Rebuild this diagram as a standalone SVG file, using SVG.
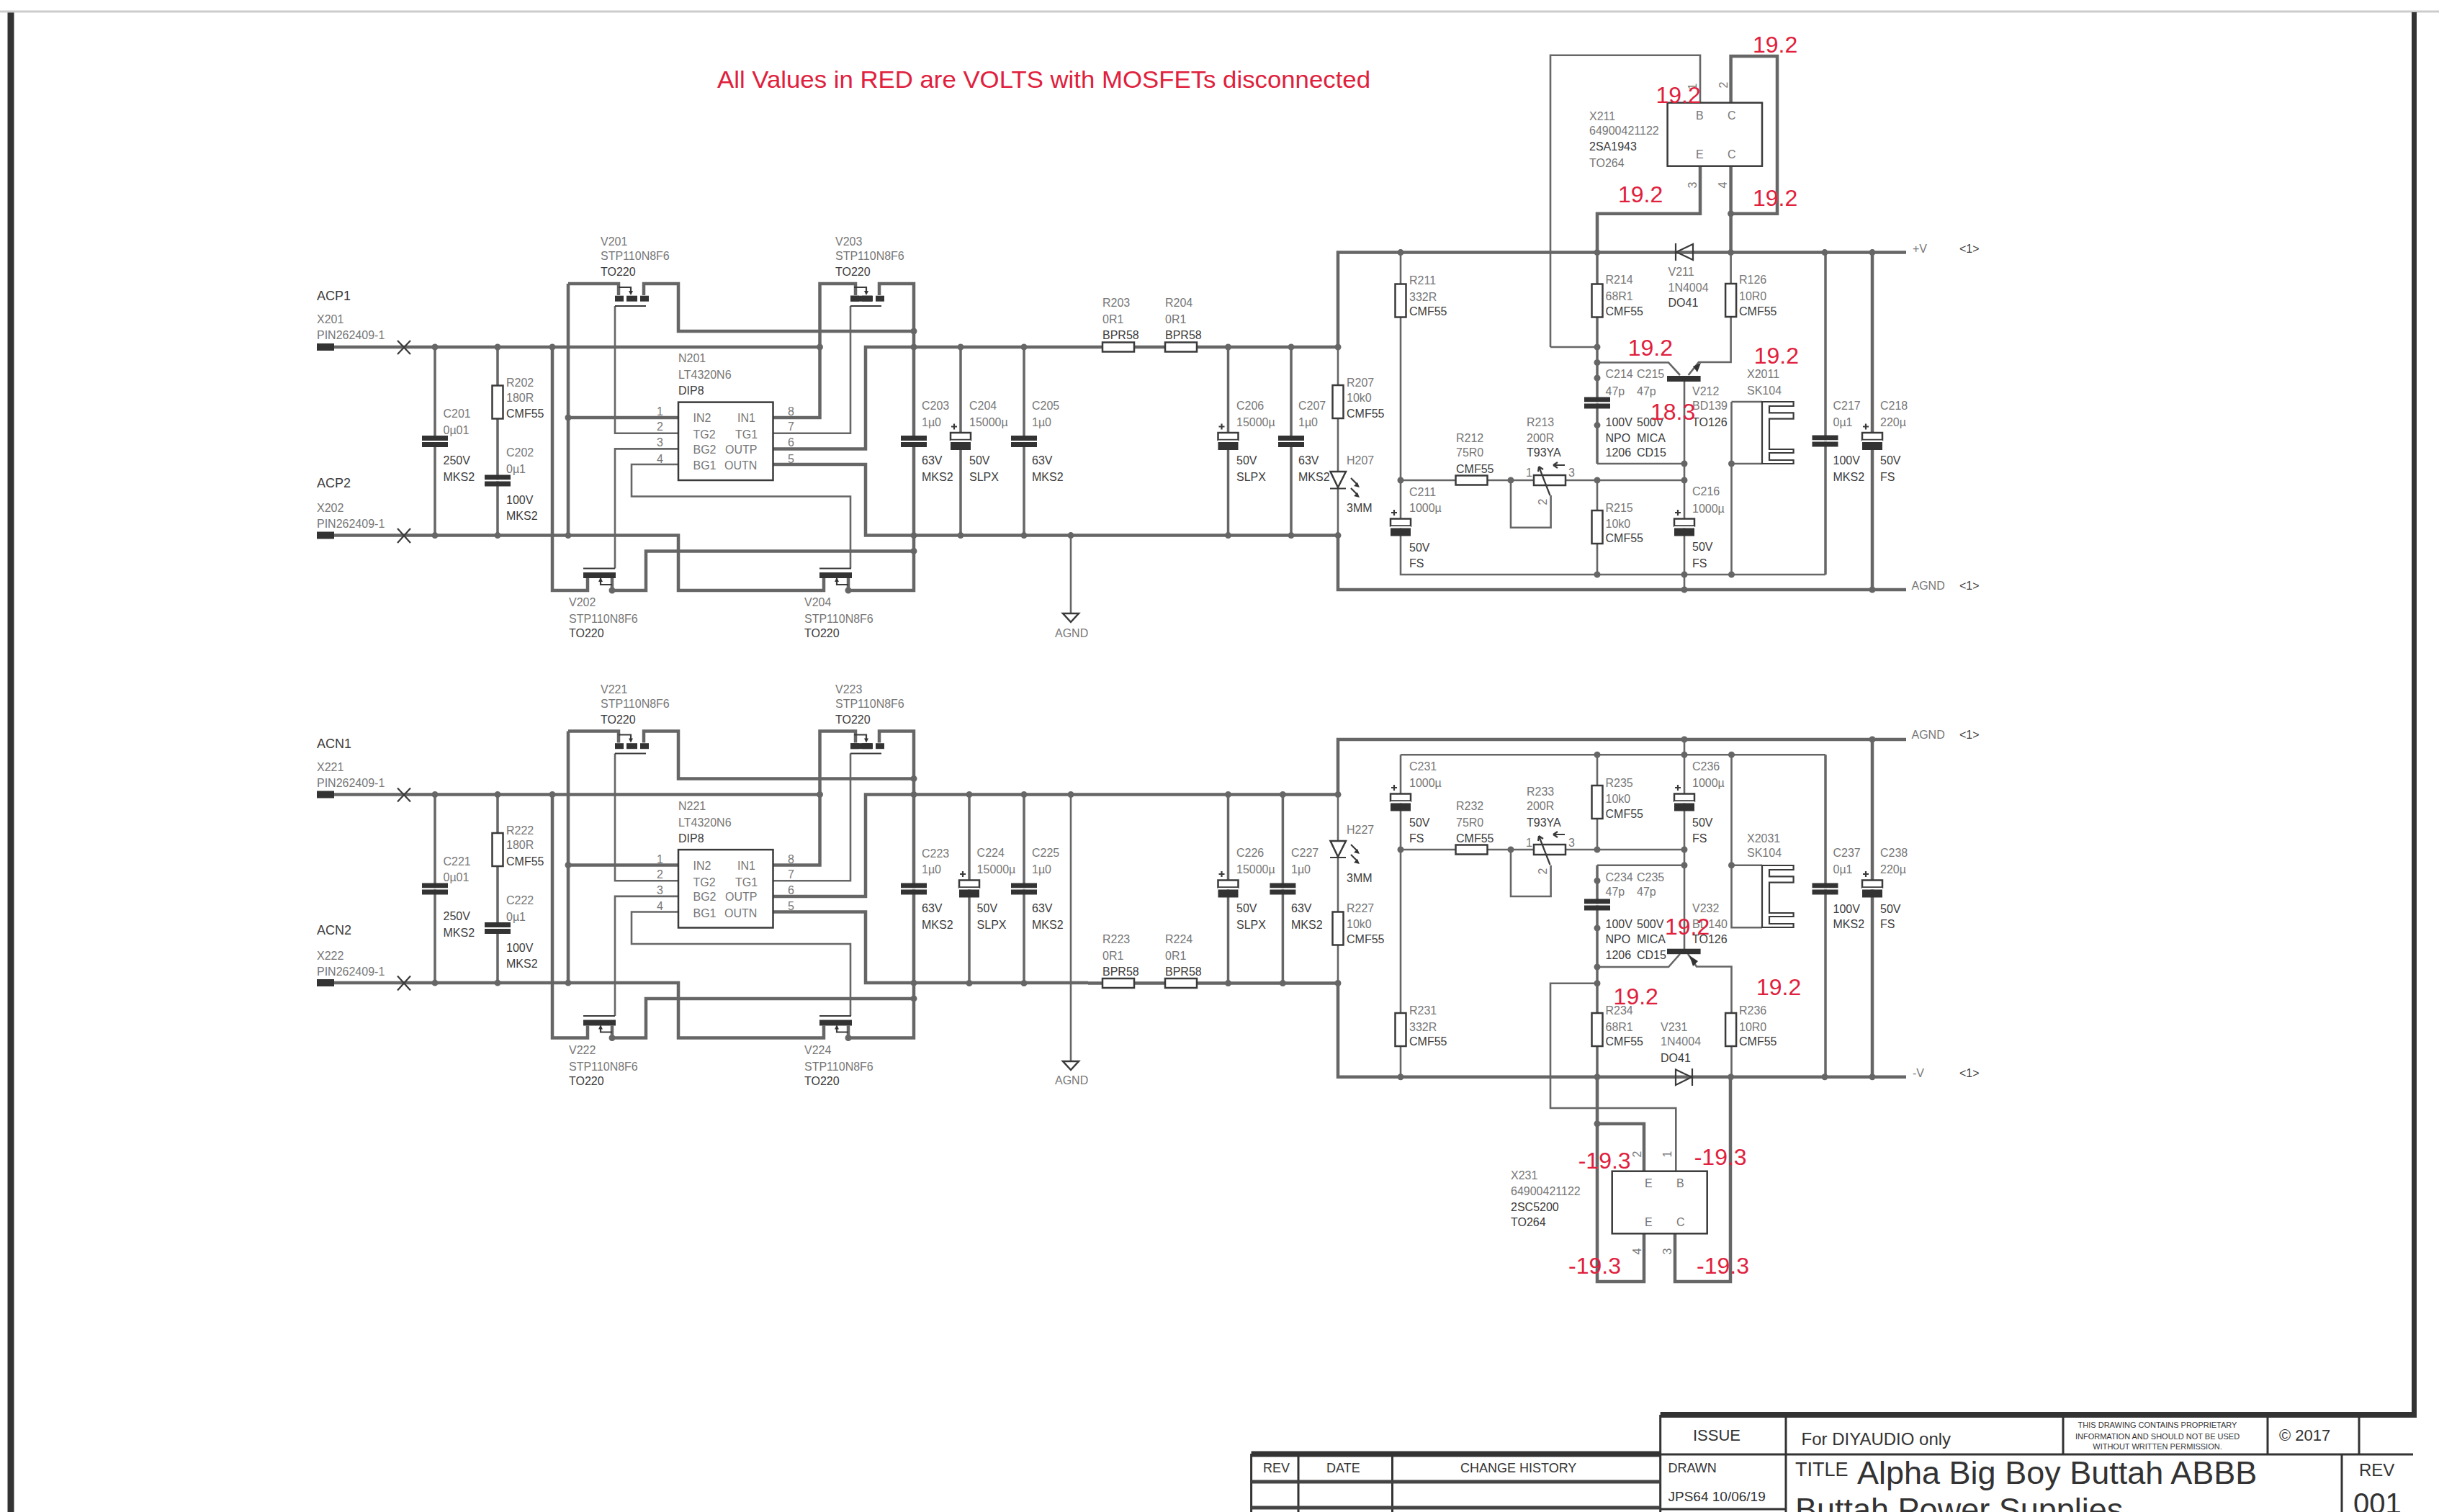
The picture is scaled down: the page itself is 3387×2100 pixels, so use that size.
<svg xmlns="http://www.w3.org/2000/svg" xmlns:xlink="http://www.w3.org/1999/xlink" width="3387" height="2100" viewBox="0 0 3387 2100">
<style>
text{font-family:"Liberation Sans",Arial,sans-serif;font-size:16px}
.g{fill:#777}
.k{fill:#3c3c3c}
.b{fill:#3c3c3c;font-size:18px}
.r{fill:#e0203c;font-size:32px}
.c{text-anchor:middle}
.w,.m,.n,.f,.d,.l{fill:none;stroke:#666;stroke-linejoin:miter}
.w{stroke-width:4.5}
.m{stroke-width:3.5}
.n{stroke-width:2.6}
.d{stroke-width:9;stroke-linecap:round}
.s{fill:#333}
.o{fill:#fff;stroke:#3a3a3a;stroke-width:2.5}
.a{fill:none;stroke:#3a3a3a;stroke-width:2.2}
.tb{fill:none;stroke:#333;stroke-width:3}
.tk{fill:none;stroke:#333;stroke-width:8}
.tt{fill:#333;font-size:18px}
</style>
<defs>
<g id="cap"><rect class="s" x="-18" y="-7.5" width="36" height="7"/><rect fill="#fff" x="-18" y="-.5" width="36" height="2"/><rect class="s" x="-18" y="1.5" width="36" height="7"/></g>
<g id="ecap"><rect class="o" x="-14" y="-11.5" width="28" height="10"/><rect fill="#fff" x="-14" y="-1" width="28" height="2.5"/><rect class="s" x="-14" y="1.5" width="28" height="11"/><path class="a" d="M-13-20h8M-9-24v8"/></g>
<rect id="rv" class="o" x="-7.5" y="-23" width="15" height="46"/>
<rect id="rh" class="o" x="-22" y="-6.5" width="44" height="13"/>
<path id="gnd" class="o" d="M-11 0H11L0 12Z"/>
<g id="qt"><rect class="s" x="854" y="410.7" width="12" height="8"/><rect class="s" x="870" y="410.7" width="15" height="8"/><rect class="s" x="889" y="410.7" width="12" height="8"/><path class="a" d="M854 425H897M859 399H876V408"/><path class="s" d="M873 404H879L876 410Z"/></g>
<g id="qb"><rect class="s" x="810" y="795" width="45" height="8"/><path class="a" d="M810 789.5H854M834 803V812H850"/><path class="s" d="M831 808H837L834 802Z"/></g>
<g id="bw">
<path class="w" d="M464 482H1138.5V394H1188V410M1221 410V394H1269V820H1178V803M789 394H859V410M894 410V394H942V460H1269M789 394V743.6M767 482V820H816V803M850 803V820H897V765.4H1269M464 743.6H942V820H1144V803M1073.5 580H1138.5V482M789 580H942M1073.5 623.4H1202V482H1511M1073.5 645H1202V743.6H1511"/>
<path class="m" d="M604 482V743.6M691 482V743.6"/>
<path class="n" d="M854 425V601.7H942M942 623.4H854V789.5M1181 425V601.7H1073.5M942 645H877V689.5H1181V789.5"/>
<path class="a" d="M552 473L570 492M570 473L552 492M552 734L570 754M570 734L552 754"/>
<path class="d" d="M604 482h0M691 482h0M767 482h0M1138.5 482h0M1269 482h0M604 743.6h0M691 743.6h0M789 743.6h0M1269 743.6h0M789 580h0M1269 460h0M1269 765.4h0M850 820h0M1178 820h0"/>
</g>
<g id="pot"><rect class="o" x="-22" y="-7" width="44" height="14"/><path class="a" d="M.5 21L-15-19M-15-19l-1 7M-15-19l6 4M21-21H5M5-21l6-4M5-21l6 4"/></g>
<path id="sink" class="a" d="M0 0H43.6V6H10V15.3H43.6V23.7H10V66H43.6V71H10V81H43.6V86H0Z"/>
</defs>

<rect width="3387" height="2100" fill="#fff"/>

<g id="frame">
<path d="M15 17V2100" fill="none" stroke="#333" stroke-width="9"/>
<path d="M0 16H3387" fill="none" stroke="#ccc" stroke-width="3"/>
<path d="M3352.500 17V1965" fill="none" stroke="#333" stroke-width="7"/>
</g>

<g id="connectors">
<use href="#bw"/>
<use href="#bw" transform="translate(0,621.5)"/>
<path class="w" d="M1511 482H1858M1511 743.6H1858M1858 482V350.6H2647M1858 743.6V819H2647M2218 350.6V296.7H2361V230.7M2403.6 350.6V230.7M2403.6 142.7V78H2468V296.7H2403.6M2600 350.6V819"/>
<path class="m" d="M1334 482V743.6M1422 482V743.6M1705.5 482V743.6M1793 482V743.6M2218 350.6V644M2535 350.6V798"/>
<path class="n" d="M1487 743.6V852M1858 482V743.6M1945 350.6V798H2535M1945 667H2339M2218 644H2339M2218 667V798M2153 482H2218M2153 482V76.7H2361V142.7M2339 530V819M2403.6 350.6V503H2359L2344.6 521M2218 503.5H2317L2333 521M2404.5 558V798M2404.5 558H2447M2404.5 644H2447M2098 667V732.7H2153.6V688"/>
<path class="d" d="M1334 482h0M1422 482h0M1705.5 482h0M1793 482h0M1858 482h0M1334 743.6h0M1422 743.6h0M1487 743.6h0M1705.5 743.6h0M1793 743.6h0M1858 743.6h0M1945 350.6h0M2218 350.6h0M2403.6 350.6h0M2534 350.6h0M2600 350.6h0M2403.6 296.7h0M2218 482h0M2218 503.5h0M2218 525h0M2218 590.6h0M2339 644h0M2339 667h0M1945 667h0M2098 667h0M2218 667h0M2404.5 644h0M2218 798h0M2339 798h0M2404.5 798h0M2339 819h0M2600 819h0"/>
<path class="w" d="M1511 1103.5H1858M1511 1365.5H1858M1858 1103.5V1027H2647M1858 1365.5V1495.7H2647M2600 1027V1495.7M2218 1495.7V1780H2283V1713.3M2403 1495.7V1780H2326V1713.3M2218 1560.7H2283V1626.7"/>
<path class="m" d="M1346 1103.5V1365.5M1422 1103.5V1365.5M1705.5 1103.5V1365.5M1781.4 1103.5V1365.5M2218 1201.7V1495.7M2535 1048.3V1495.7"/>
<path class="n" d="M1487 1103.5V1474M1858 1103.5V1365.5M1945 1048.3H2535M1945 1048.3V1495.7M1945 1180H2339M2218 1048.3V1180M2339 1027V1318M2218 1201.7H2339M2404.5 1048.3V1288.3H2447M2404.5 1201.7H2447M2218 1343H2317L2333 1325M2344 1325L2356 1342.5H2404.5V1495.7M2218 1365.7H2153V1539H2327.3V1626.7M2098 1180V1245H2153.6V1201.7"/>
<path class="d" d="M1346 1103.5h0M1422 1103.5h0M1487 1103.5h0M1705.5 1103.5h0M1781.4 1103.5h0M1858 1103.5h0M1422 1365.5h0M1705.5 1365.5h0M1781.4 1365.5h0M1858 1365.5h0M1346 1365.5h0M2339 1027h0M2600 1027h0M2218 1048.3h0M2339 1048.3h0M2404.5 1048.3h0M1945 1180h0M2098 1180h0M2218 1180h0M2339 1180h0M2339 1201.7h0M2404.5 1201.7h0M2218 1223.3h0M2218 1289h0M2218 1343h0M2218 1365.7h0M1945 1495.7h0M2218 1495.7h0M2403.6 1495.7h0M2534 1495.7h0M2600 1495.7h0M2218 1560.7h0"/>
</g>

<text id="note" class="r" style="font-size:34px" x="996" y="122" textLength="907" lengthAdjust="spacingAndGlyphs">All Values in RED are VOLTS with MOSFETs disconnected</text>

<g id="bridge1">
<g id="X201"><rect class="s" x="440" y="477" width="24" height="10"/><text class="b" x="440" y="417">ACP1</text><text class="g" x="440" y="449">X201</text><text class="g" x="440" y="471">PIN262409-1</text></g>
<g id="X202"><rect class="s" x="440" y="738.5" width="24" height="10"/><text class="b" x="440" y="676.5">ACP2</text><text class="g" x="440" y="711">X202</text><text class="g" x="440" y="733">PIN262409-1</text></g>
<g id="C201"><use href="#cap" x="604" y="612.5"/><text class="g" x="615.5" y="580">C201</text><text class="g" x="615.5" y="602.5">0µ01</text><text class="k" x="615.5" y="645">250V</text><text class="k" x="615.5" y="668">MKS2</text></g>
<g id="R202"><use href="#rv" x="691" y="558.5"/><text class="g" x="703" y="537">R202</text><text class="g" x="703" y="557.5">180R</text><text class="k" x="703" y="580">CMF55</text></g>
<g id="C202"><use href="#cap" x="691" y="667"/><text class="g" x="703" y="634">C202</text><text class="g" x="703" y="657">0µ1</text><text class="k" x="703" y="700">100V</text><text class="k" x="703" y="722">MKS2</text></g>
<g id="V201"><use href="#qt"/><text class="g" x="834" y="341">V201</text><text class="g" x="834" y="361">STP110N8F6</text><text class="k" x="834" y="383">TO220</text></g>
<g id="V203"><use href="#qt" x="327"/><rect class="s" x="1181" y="410.7" width="30" height="8"/><text class="g" x="1160" y="341">V203</text><text class="g" x="1160" y="361">STP110N8F6</text><text class="k" x="1160" y="383">TO220</text></g>
<g id="V202"><use href="#qb"/><text class="g" x="790" y="842">V202</text><text class="g" x="790" y="865">STP110N8F6</text><text class="k" x="790" y="885">TO220</text></g>
<g id="V204"><use href="#qb" x="328"/><text class="g" x="1117" y="842">V204</text><text class="g" x="1117" y="865">STP110N8F6</text><text class="k" x="1117" y="885">TO220</text></g>
<g id="N201"><rect class="o" x="942" y="558.6" width="131.5" height="108.4"/><text class="g" x="942" y="503">N201</text><text class="g" x="942" y="526">LT4320N6</text><text class="k" x="942" y="548">DIP8</text><text class="g" x="962.5" y="586">IN2</text><text class="g" x="962.5" y="609">TG2</text><text class="g" x="962.5" y="629.5">BG2</text><text class="g" x="962.5" y="652">BG1</text><text class="g" x="1024" y="586">IN1</text><text class="g" x="1021" y="609">TG1</text><text class="g" x="1007" y="629.5">OUTP</text><text class="g" x="1006" y="652">OUTN</text><text class="g" x="912" y="577">1</text><text class="g" x="912" y="598">2</text><text class="g" x="912" y="620">3</text><text class="g" x="912" y="642.5">4</text><text class="g" x="1094" y="577">8</text><text class="g" x="1094" y="598">7</text><text class="g" x="1094" y="620">6</text><text class="g" x="1094" y="642.5">5</text></g>
<g id="C203"><use href="#cap" x="1269" y="612.5"/><text class="g" x="1280" y="569">C203</text><text class="g" x="1280" y="591.5">1µ0</text><text class="k" x="1280" y="645">63V</text><text class="k" x="1280" y="668">MKS2</text></g>
</g>
<g id="C204"><use href="#ecap" x="1334" y="612.5"/><text class="g" x="1346" y="569">C204</text><text class="g" x="1346" y="591.5">15000µ</text><text class="k" x="1346" y="645">50V</text><text class="k" x="1346" y="668">SLPX</text></g>
<g id="C205"><use href="#cap" x="1422" y="612.5"/><text class="g" x="1433" y="569">C205</text><text class="g" x="1433" y="591.5">1µ0</text><text class="k" x="1433" y="645">63V</text><text class="k" x="1433" y="668">MKS2</text></g>
<g id="R203"><use href="#rh" x="1553" y="482"/><text class="g" x="1531" y="426">R203</text><text class="g" x="1531" y="449">0R1</text><text class="k" x="1531" y="471">BPR58</text></g>
<g id="R204"><use href="#rh" x="1640" y="482"/><text class="g" x="1618" y="426">R204</text><text class="g" x="1618" y="449">0R1</text><text class="k" x="1618" y="471">BPR58</text></g>
<g id="C206"><use href="#ecap" x="1705.5" y="612.5"/><text class="g" x="1717" y="569">C206</text><text class="g" x="1717" y="591.5">15000µ</text><text class="k" x="1717" y="645">50V</text><text class="k" x="1717" y="668">SLPX</text></g>
<g id="C207"><use href="#cap" x="1793" y="612.5"/><text class="g" x="1803" y="569">C207</text><text class="g" x="1803" y="591.5">1µ0</text><text class="k" x="1803" y="645">63V</text><text class="k" x="1803" y="668">MKS2</text></g>
<g id="AGND1"><use href="#gnd" x="1487" y="852"/><text class="g" x="1465" y="885">AGND</text></g>
<g id="R207"><use href="#rv" x="1858" y="558"/><text class="g" x="1870" y="537">R207</text><text class="g" x="1870" y="557.5">10k0</text><text class="k" x="1870" y="580">CMF55</text></g>
<g id="H207"><path class="o" d="M1847.500 655H1869L1858 677Z"/><path class="a" d="M1847 678.500H1869M1876 664l9 9M1876 678l9 9"/><path class="s" d="M1888 677l-8-2 5-5ZM1888 691l-8-2 5-5Z"/><text class="g" x="1870" y="645">H207</text><text class="k" x="1870" y="711">3MM</text></g>
<g id="R211"><use href="#rv" x="1945" y="417.500"/><text class="g" x="1957" y="395">R211</text><text class="g" x="1957" y="417.500">332R</text><text class="k" x="1957" y="438">CMF55</text></g>
<g id="R212"><use href="#rh" x="2043.500" y="667"/><text class="g" x="2022" y="614">R212</text><text class="g" x="2022" y="634">75R0</text><text class="k" x="2022" y="657">CMF55</text></g>
<g id="R213"><use href="#pot" x="2152" y="667"/><text class="g" x="2120" y="592">R213</text><text class="g" x="2120" y="614">200R</text><text class="k" x="2120" y="634">T93YA</text><text class="g" x="2119" y="662">1</text><text class="g" x="2178" y="662">3</text><text class="g c" transform="rotate(-90 2148 697)" x="2148" y="697">2</text></g>
<g id="R214"><use href="#rv" x="2218" y="417.500"/><text class="g" x="2229.500" y="394">R214</text><text class="g" x="2229.500" y="417">68R1</text><text class="k" x="2229.500" y="438">CMF55</text></g>
<g id="R215"><use href="#rv" x="2218" y="732"/><text class="g" x="2229.500" y="711">R215</text><text class="g" x="2229.500" y="733">10k0</text><text class="k" x="2229.500" y="753">CMF55</text></g>
<g id="R126"><use href="#rv" x="2403.600" y="417"/><text class="g" x="2415" y="394">R126</text><text class="g" x="2415" y="417">10R0</text><text class="k" x="2415" y="438">CMF55</text></g>
<g id="V211"><path class="a" d="M2327 338V362M2351 339V361L2328 350Z"/><text class="g" x="2316.500" y="383">V211</text><text class="g" x="2316.500" y="405">1N4004</text><text class="k" x="2316.500" y="426">DO41</text></g>
<g id="C211"><use href="#ecap" x="1945" y="732"/><text class="g" x="1957" y="689">C211</text><text class="g" x="1957" y="711">1000µ</text><text class="k" x="1957" y="765.500">50V</text><text class="k" x="1957" y="788">FS</text></g>
<g id="C214"><use href="#cap" x="2218" y="559"/><text class="g" x="2229.500" y="525">C214</text><text class="g" x="2229.500" y="549">47p</text><text class="k" x="2229.500" y="592">100V</text><text class="k" x="2229.500" y="614">NPO</text><text class="k" x="2229.500" y="634">1206</text></g>
<g id="C215"><text class="g" x="2273" y="525">C215</text><text class="g" x="2273" y="549">47p</text><text class="k" x="2273" y="592">500V</text><text class="k" x="2273" y="614">MICA</text><text class="k" x="2273" y="634">CD15</text></g>
<g id="V212"><rect class="s" x="2315" y="522" width="46.600" height="8"/><path class="s" d="M2362 504L2351 509L2357 517Z"/><text class="g" x="2350" y="549">V212</text><text class="g" x="2350" y="569">BD139</text><text class="k" x="2350" y="592">TO126</text></g>
<g id="C216"><use href="#ecap" x="2339" y="732"/><text class="g" x="2350" y="688">C216</text><text class="g" x="2350" y="712">1000µ</text><text class="k" x="2350" y="765">50V</text><text class="k" x="2350" y="788">FS</text></g>
<g id="X2011"><use href="#sink" x="2447" y="558"/><text class="g" x="2426" y="525">X2011</text><text class="g" x="2426" y="548">SK104</text></g>
<g id="C217"><use href="#cap" x="2534.500" y="612"/><text class="g" x="2545.500" y="569">C217</text><text class="g" x="2545.500" y="592">0µ1</text><text class="k" x="2545.500" y="645">100V</text><text class="k" x="2545.500" y="668">MKS2</text></g>
<g id="C218"><use href="#ecap" x="2600" y="612.500"/><text class="g" x="2611" y="569">C218</text><text class="g" x="2611" y="592">220µ</text><text class="k" x="2611" y="645">50V</text><text class="k" x="2611" y="668">FS</text></g>
<g id="X211"><rect class="o" x="2315.600" y="142.700" width="131.400" height="88"/><text class="g" x="2207" y="167">X211</text><text class="g" x="2207" y="187">64900421122</text><text class="k" x="2207" y="209">2SA1943</text><text class="g" x="2207" y="232">TO264</text><text class="g" x="2355" y="166">B</text><text class="g" x="2399" y="166">C</text><text class="g" x="2355" y="220">E</text><text class="g" x="2399" y="220">C</text><text class="g c" transform="rotate(-90 2356 120)" x="2356" y="120">1</text><text class="g c" transform="rotate(-90 2399 118)" x="2399" y="118">2</text><text class="g c" transform="rotate(-90 2356 257)" x="2356" y="257">3</text><text class="g c" transform="rotate(-90 2398 257)" x="2398" y="257">4</text></g>
<g id="portV"><text class="g" x="2656" y="351">+V</text><text class="k" x="2721" y="351">&lt;1&gt;</text></g>
<g id="portAGND1"><text class="g" x="2654.500" y="819">AGND</text><text class="k" x="2721" y="819">&lt;1&gt;</text></g>
<g id="volts1">
<text class="r" x="2434" y="73">19.2</text><text class="r" x="2299.500" y="143">19.2</text><text class="r" x="2247" y="281">19.2</text><text class="r" x="2434" y="285.700">19.2</text><text class="r" x="2260.700" y="494">19.2</text><text class="r" x="2435.700" y="505">19.2</text><text class="r" x="2292" y="583">18.3</text>
</g>

<g id="bridge2" transform="translate(0,621.5)">
<g id="X221"><rect class="s" x="440" y="477" width="24" height="10"/><text class="b" x="440" y="417">ACN1</text><text class="g" x="440" y="449">X221</text><text class="g" x="440" y="471">PIN262409-1</text></g>
<g id="X222"><rect class="s" x="440" y="738.500" width="24" height="10"/><text class="b" x="440" y="676.500">ACN2</text><text class="g" x="440" y="711">X222</text><text class="g" x="440" y="733">PIN262409-1</text></g>
<g id="C221"><use href="#cap" x="604" y="612.500"/><text class="g" x="615.500" y="580">C221</text><text class="g" x="615.500" y="602.500">0µ01</text><text class="k" x="615.500" y="656">250V</text><text class="k" x="615.500" y="679">MKS2</text></g>
<g id="R222"><use href="#rv" x="691" y="558.500"/><text class="g" x="703" y="537">R222</text><text class="g" x="703" y="557.500">180R</text><text class="k" x="703" y="580">CMF55</text></g>
<g id="C222"><use href="#cap" x="691" y="667"/><text class="g" x="703" y="634">C222</text><text class="g" x="703" y="657">0µ1</text><text class="k" x="703" y="700">100V</text><text class="k" x="703" y="722">MKS2</text></g>
<g id="V221"><use href="#qt"/><text class="g" x="834" y="341">V221</text><text class="g" x="834" y="361">STP110N8F6</text><text class="k" x="834" y="383">TO220</text></g>
<g id="V223"><use href="#qt" x="327"/><rect class="s" x="1181" y="410.700" width="30" height="8"/><text class="g" x="1160" y="341">V223</text><text class="g" x="1160" y="361">STP110N8F6</text><text class="k" x="1160" y="383">TO220</text></g>
<g id="V222"><use href="#qb"/><text class="g" x="790" y="842">V222</text><text class="g" x="790" y="865">STP110N8F6</text><text class="k" x="790" y="885">TO220</text></g>
<g id="V224"><use href="#qb" x="328"/><text class="g" x="1117" y="842">V224</text><text class="g" x="1117" y="865">STP110N8F6</text><text class="k" x="1117" y="885">TO220</text></g>
<g id="N221"><rect class="o" x="942" y="558.600" width="131.500" height="108.400"/><text class="g" x="942" y="503">N221</text><text class="g" x="942" y="526">LT4320N6</text><text class="k" x="942" y="548">DIP8</text><text class="g" x="962.500" y="586">IN2</text><text class="g" x="962.500" y="609">TG2</text><text class="g" x="962.500" y="629.500">BG2</text><text class="g" x="962.500" y="652">BG1</text><text class="g" x="1024" y="586">IN1</text><text class="g" x="1021" y="609">TG1</text><text class="g" x="1007" y="629.500">OUTP</text><text class="g" x="1006" y="652">OUTN</text><text class="g" x="912" y="577">1</text><text class="g" x="912" y="598">2</text><text class="g" x="912" y="620">3</text><text class="g" x="912" y="642.500">4</text><text class="g" x="1094" y="577">8</text><text class="g" x="1094" y="598">7</text><text class="g" x="1094" y="620">6</text><text class="g" x="1094" y="642.500">5</text></g>
<g id="C223"><use href="#cap" x="1269" y="612.500"/><text class="g" x="1280" y="569">C223</text><text class="g" x="1280" y="591.500">1µ0</text><text class="k" x="1280" y="645">63V</text><text class="k" x="1280" y="668">MKS2</text></g>
</g>
<g id="C224"><use href="#ecap" x="1346" y="1234"/><text class="g" x="1356.600" y="1190">C224</text><text class="g" x="1356.600" y="1213">15000µ</text><text class="k" x="1356.600" y="1267">50V</text><text class="k" x="1356.600" y="1290">SLPX</text></g>
<g id="C225"><use href="#cap" x="1422" y="1234"/><text class="g" x="1433" y="1190">C225</text><text class="g" x="1433" y="1213">1µ0</text><text class="k" x="1433" y="1267">63V</text><text class="k" x="1433" y="1290">MKS2</text></g>
<g id="R223"><use href="#rh" x="1553" y="1365.500"/><text class="g" x="1531" y="1310">R223</text><text class="g" x="1531" y="1333">0R1</text><text class="k" x="1531" y="1355">BPR58</text></g>
<g id="R224"><use href="#rh" x="1640" y="1365.500"/><text class="g" x="1618" y="1310">R224</text><text class="g" x="1618" y="1333">0R1</text><text class="k" x="1618" y="1355">BPR58</text></g>
<g id="C226"><use href="#ecap" x="1705.500" y="1234"/><text class="g" x="1717" y="1190">C226</text><text class="g" x="1717" y="1213">15000µ</text><text class="k" x="1717" y="1267">50V</text><text class="k" x="1717" y="1290">SLPX</text></g>
<g id="C227"><use href="#cap" x="1781.400" y="1234"/><text class="g" x="1793" y="1190">C227</text><text class="g" x="1793" y="1213">1µ0</text><text class="k" x="1793" y="1267">63V</text><text class="k" x="1793" y="1290">MKS2</text></g>
<g id="AGND2"><use href="#gnd" x="1487" y="1474"/><text class="g" x="1465" y="1506">AGND</text></g>
<g id="H227"><path class="o" d="M1847.500 1168H1869L1858 1190Z"/><path class="a" d="M1847 1191H1869M1876 1173l9 9M1876 1187l9 9"/><path class="s" d="M1888 1186l-8-2 5-5ZM1888 1200l-8-2 5-5Z"/><text class="g" x="1870" y="1158">H227</text><text class="k" x="1870" y="1225">3MM</text></g>
<g id="R227"><use href="#rv" x="1858" y="1289.500"/><text class="g" x="1870" y="1267">R227</text><text class="g" x="1870" y="1289">10k0</text><text class="k" x="1870" y="1310">CMF55</text></g>
<g id="C231"><use href="#ecap" x="1945" y="1114"/><text class="g" x="1957" y="1070">C231</text><text class="g" x="1957" y="1093">1000µ</text><text class="k" x="1957" y="1147.500">50V</text><text class="k" x="1957" y="1170">FS</text></g>
<g id="R231"><use href="#rv" x="1945" y="1430"/><text class="g" x="1957" y="1409">R231</text><text class="g" x="1957" y="1432">332R</text><text class="k" x="1957" y="1452">CMF55</text></g>
<g id="R232"><use href="#rh" x="2043.500" y="1180"/><text class="g" x="2022" y="1125">R232</text><text class="g" x="2022" y="1147.500">75R0</text><text class="k" x="2022" y="1170">CMF55</text></g>
<g id="R233"><use href="#pot" x="2152" y="1180"/><text class="g" x="2120" y="1104.500">R233</text><text class="g" x="2120" y="1124.500">200R</text><text class="k" x="2120" y="1148">T93YA</text><text class="g" x="2119" y="1176">1</text><text class="g" x="2178" y="1176">3</text><text class="g c" transform="rotate(-90 2148 1210)" x="2148" y="1210">2</text></g>
<g id="R234"><use href="#rv" x="2218" y="1430"/><text class="g" x="2229.500" y="1409">R234</text><text class="g" x="2229.500" y="1432">68R1</text><text class="k" x="2229.500" y="1452">CMF55</text></g>
<g id="R235"><use href="#rv" x="2218" y="1114"/><text class="g" x="2229.500" y="1093">R235</text><text class="g" x="2229.500" y="1115">10k0</text><text class="k" x="2229.500" y="1136">CMF55</text></g>
<g id="R236"><use href="#rv" x="2403.600" y="1430"/><text class="g" x="2415" y="1409">R236</text><text class="g" x="2415" y="1432">10R0</text><text class="k" x="2415" y="1452">CMF55</text></g>
<g id="C234"><use href="#cap" x="2218" y="1256"/><text class="g" x="2229.500" y="1224">C234</text><text class="g" x="2229.500" y="1244">47p</text><text class="k" x="2229.500" y="1289">100V</text><text class="k" x="2229.500" y="1310">NPO</text><text class="k" x="2229.500" y="1332">1206</text></g>
<g id="C235"><text class="g" x="2273" y="1224">C235</text><text class="g" x="2273" y="1244">47p</text><text class="k" x="2273" y="1289">500V</text><text class="k" x="2273" y="1310">MICA</text><text class="k" x="2273" y="1332">CD15</text></g>
<g id="V232"><rect class="s" x="2315" y="1317.700" width="46.600" height="7.500"/><path class="s" d="M2346 1327L2358 1335L2351 1342Z"/><text class="g" x="2350" y="1267">V232</text><text class="g" x="2350" y="1289">BD140</text><text class="k" x="2350" y="1310">TO126</text></g>
<g id="C236"><use href="#ecap" x="2339" y="1114"/><text class="g" x="2350" y="1070">C236</text><text class="g" x="2350" y="1093">1000µ</text><text class="k" x="2350" y="1148">50V</text><text class="k" x="2350" y="1170">FS</text></g>
<g id="X2031"><use href="#sink" x="2447" y="1202"/><text class="g" x="2426" y="1170">X2031</text><text class="g" x="2426" y="1190">SK104</text></g>
<g id="C237"><use href="#cap" x="2534.500" y="1234"/><text class="g" x="2545.500" y="1190">C237</text><text class="g" x="2545.500" y="1213">0µ1</text><text class="k" x="2545.500" y="1267.700">100V</text><text class="k" x="2545.500" y="1289">MKS2</text></g>
<g id="C238"><use href="#ecap" x="2600" y="1234"/><text class="g" x="2611" y="1190">C238</text><text class="g" x="2611" y="1213">220µ</text><text class="k" x="2611" y="1267.700">50V</text><text class="k" x="2611" y="1289">FS</text></g>
<g id="V231"><path class="a" d="M2327 1485.500V1507L2349 1496ZM2350 1484V1508"/><text class="g" x="2306" y="1432">V231</text><text class="g" x="2306" y="1452">1N4004</text><text class="k" x="2306" y="1475">DO41</text></g>
<g id="X231"><rect class="o" x="2238.700" y="1626.700" width="132" height="86.600"/><text class="g" x="2098" y="1638">X231</text><text class="g" x="2098" y="1660">64900421122</text><text class="k" x="2098" y="1682">2SC5200</text><text class="k" x="2098" y="1703">TO264</text><text class="g" x="2284" y="1649">E</text><text class="g" x="2328" y="1649">B</text><text class="g" x="2284" y="1703">E</text><text class="g" x="2328" y="1703">C</text><text class="g c" transform="rotate(-90 2279 1603)" x="2279" y="1603">2</text><text class="g c" transform="rotate(-90 2321 1603)" x="2321" y="1603">1</text><text class="g c" transform="rotate(-90 2279 1738)" x="2279" y="1738">4</text><text class="g c" transform="rotate(-90 2321 1738)" x="2321" y="1738">3</text></g>
<g id="portAGND2"><text class="g" x="2654.500" y="1026">AGND</text><text class="k" x="2721" y="1026">&lt;1&gt;</text></g>
<g id="portVn"><text class="g" x="2656" y="1496">-V</text><text class="k" x="2721" y="1496">&lt;1&gt;</text></g>
<g id="volts2">
<text class="r" x="2312" y="1297.700">19.2</text><text class="r" x="2240.600" y="1395">19.2</text><text class="r" x="2439" y="1381.700">19.2</text><text class="r" x="2191.700" y="1622.700">-19.3</text><text class="r" x="2352.700" y="1618">-19.3</text><text class="r" x="2178" y="1769">-19.3</text><text class="r" x="2356" y="1769">-19.3</text>
</g>

<g id="titleblock">
<path class="tk" d="M2305.700 1965H3356M1737.600 2019.500H2305.700"/>
<path class="tb" d="M2305.700 1965V2100M2305.700 2020H3351M2480 1969V2100M2865 1969V2020M3149 1969V2020M3276 1969V2020M3252 2020V2100M2305.700 2096H2480M1737.600 2019V2100M1803 2019V2100M1933.500 2019V2100"/>
<path d="M1737.600 2058H2305.700M1737.600 2094H2305.700" fill="none" stroke="#444" stroke-width="5"/>
<text class="tt" style="font-size:22px" x="2351" y="2001">ISSUE</text>
<text class="tt" style="font-size:24px" x="2501.500" y="2007">For DIYAUDIO only</text>
<text class="tt c" style="font-size:11px" x="2996" y="1983">THIS DRAWING CONTAINS PROPRIETARY</text>
<text class="tt c" style="font-size:11px" x="2996" y="1999">INFORMATION AND SHOULD NOT BE USED</text>
<text class="tt c" style="font-size:11px" x="2996" y="2013">WITHOUT WRITTEN PERMISSION.</text>
<text class="tt" style="font-size:22px" x="3165" y="2001">© 2017</text>
<text class="tt" x="1754" y="2045">REV</text>
<text class="tt" x="1842" y="2045">DATE</text>
<text class="tt" x="2028" y="2045">CHANGE HISTORY</text>
<text class="tt" x="2316.500" y="2045">DRAWN</text>
<text class="tt" style="font-size:19px" x="2316.500" y="2085">JPS64 10/06/19</text>
<text class="tt" style="font-size:27px" x="2493" y="2050">TITLE</text>
<text class="tt" style="font-size:45px" x="2579" y="2061">Alpha Big Boy Buttah ABBB</text>
<text class="tt" style="font-size:45px" x="2493" y="2112">Buttah Power Supplies</text>
<text class="tt" style="font-size:24px" x="3276" y="2050">REV</text>
<text class="tt" style="font-size:40px" x="3268" y="2102">001</text>
</g>
</svg>
